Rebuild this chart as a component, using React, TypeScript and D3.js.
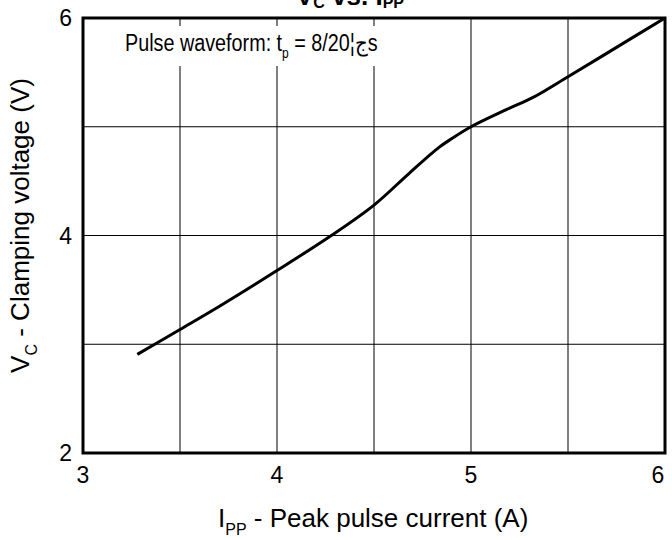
import * as d3 from 'd3';

// V_C vs. I_PP curve
const currentA = [3.28, 3.5, 3.71, 4.0, 4.28, 4.5, 4.68, 4.835, 4.9, 5.0, 5.185, 5.32, 5.5, 5.75, 6.0];
const clampV = [2.907, 3.136, 3.357, 3.678, 4.0, 4.28, 4.57, 4.81, 4.89, 5.0, 5.16, 5.27, 5.46, 5.73, 6.0];

const xGrid = [3, 3.5, 4, 4.5, 5, 5.5, 6];
const yGrid = [2, 3, 4, 5, 6];
const xTickLabels = [3, 4, 5, 6];
const yTickLabels = [2, 4, 6];

const W = 672;
const H = 540;
const plot = { left: 83, right: 665, top: 18, bottom: 453 };
const font = 'Arial, "Liberation Sans", sans-serif';

export default function App() {
  const x = d3.scaleLinear().domain([3, 6]).range([plot.left, plot.right]);
  const y = d3.scaleLinear().domain([2, 6]).range([plot.bottom, plot.top]);

  const points = currentA.map((a, i) => [a, clampV[i]] as [number, number]);
  const line = d3
    .line<[number, number]>()
    .x(d => x(d[0]))
    .y(d => y(d[1]))
    .curve(d3.curveCatmullRom.alpha(0.5));

  return (
    <svg
      width={W}
      height={H}
      style={{ position: 'absolute', left: 0, top: 0, background: '#fff' }}
      fontFamily={font}
    >
      <rect width={W} height={H} fill="#fff" />

      {/* title, mostly cut off at the top */}
      <text x={350} y={5} textAnchor="middle" fontSize={26} fontWeight="bold" fill="#000">
        V<tspan fontSize={16} dy={3}>C</tspan>
        <tspan dy={-3}> vs. I</tspan>
        <tspan fontSize={16} dy={3}>PP</tspan>
      </text>

      {/* grid */}
      {xGrid.map(v => (
        <line key={'gx' + v} x1={x(v)} x2={x(v)} y1={plot.top} y2={plot.bottom} stroke="#000" strokeWidth={1} />
      ))}
      {yGrid.map(v => (
        <line key={'gy' + v} x1={plot.left} x2={plot.right} y1={y(v)} y2={y(v)} stroke="#000" strokeWidth={1} />
      ))}

      {/* annotation with white box */}
      <rect x={112} y={26} width={285} height={40} fill="#fff" />
      <g transform="translate(125, 51) scale(0.86, 1)">
        <text x={0} y={0} fontSize={23} fill="#000">
          Pulse waveform: t<tspan fontSize={14} dy={7}>p</tspan>
          <tspan dy={-7}> = 8/20¦جs</tspan>
        </text>
      </g>

      {/* curve */}
      <path d={line(points) ?? ''} fill="none" stroke="#000" strokeWidth={3} />

      {/* frame */}
      <rect
        x={plot.left}
        y={plot.top}
        width={plot.right - plot.left}
        height={plot.bottom - plot.top}
        fill="none"
        stroke="#000"
        strokeWidth={3}
      />

      {/* tick labels */}
      {yTickLabels.map(v => (
        <text key={'ty' + v} x={72} y={y(v)} dy="0.36em" textAnchor="end" fontSize={23} fill="#000">
          {v}
        </text>
      ))}
      {xTickLabels.map((v, i) => (
        <text
          key={'tx' + v}
          x={x(v) - (i === xTickLabels.length - 1 ? 7 : 0)}
          y={483}
          textAnchor="middle"
          fontSize={23}
          fill="#000"
        >
          {v}
        </text>
      ))}

      {/* axis titles */}
      <text x={218} y={527} fontSize={26} fill="#000">
        I<tspan fontSize={16} dy={8}>PP</tspan>
        <tspan dy={-8}> - Peak pulse current (A)</tspan>
      </text>
      <text
        transform={`translate(29, ${(plot.top + plot.bottom) / 2 - 10}) rotate(-90)`}
        textAnchor="middle"
        fontSize={26}
        fill="#000"
      >
        V<tspan fontSize={16} dy={8}>C</tspan>
        <tspan dy={-8}> - Clamping voltage (V)</tspan>
      </text>
    </svg>
  );
}
